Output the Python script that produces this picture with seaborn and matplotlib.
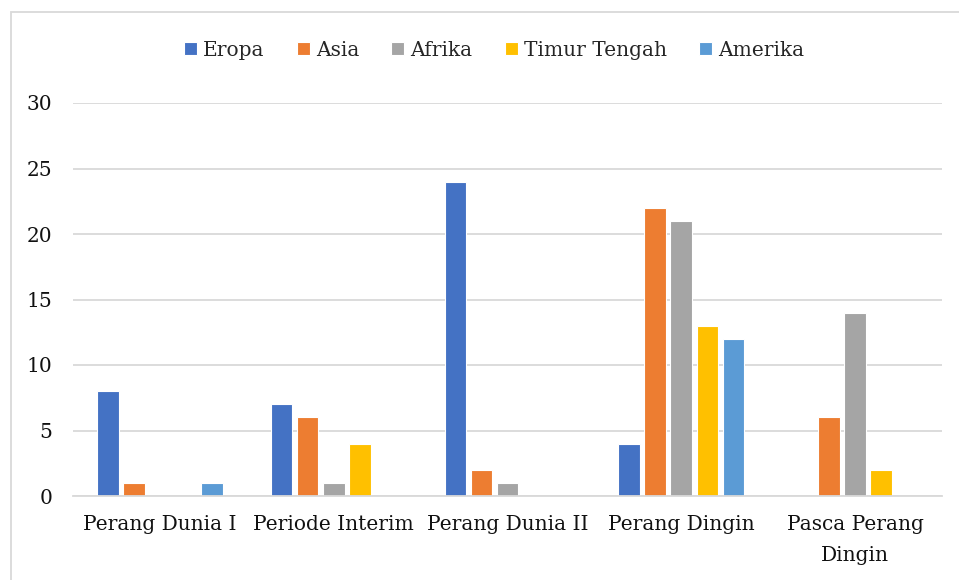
import matplotlib
matplotlib.use("Agg")
import matplotlib.pyplot as plt
import seaborn as sns
import pandas as pd
from matplotlib.patches import Rectangle

categories = ["Perang Dunia I", "Periode Interim", "Perang Dunia II", "Perang Dingin", "Pasca Perang\nDingin"]
series_names = ["Eropa", "Asia", "Afrika", "Timur Tengah", "Amerika"]
eropa = [8, 7, 24, 4, 0]
asia = [1, 6, 2, 22, 6]
afrika = [0, 1, 1, 21, 14]
timur_tengah = [0, 4, 0, 13, 2]
amerika = [1, 0, 0, 12, 0]
colors = ["#4472C4", "#ED7D31", "#A5A5A5", "#FFC000", "#5B9BD5"]
yticks = [0, 5, 10, 15, 20, 25, 30]

rows = []
for name, vals in zip(series_names, [eropa, asia, afrika, timur_tengah, amerika]):
    for c, v in zip(categories, vals):
        rows.append({"cat": c, "region": name, "val": v})
df = pd.DataFrame(rows)

sns.set_theme(style="white")
plt.rcParams["font.family"] = ["DejaVu Serif"]

fs = 14.5
fig = plt.figure(figsize=(9.59, 5.80), dpi=100)
ax = fig.add_axes([73/959, 1-496/580, (942-73)/959, (496-103)/580])

sns.barplot(data=df, x="cat", y="val", hue="region", order=categories,
            hue_order=series_names, palette=colors, width=0.75, gap=0.17,
            ax=ax, linewidth=0.8, edgecolor="white", saturation=1, errorbar=None)

ax.set_ylim(0, 30)
ax.set_yticks(yticks)
ax.set_xlim(-0.5, 4.5)
ax.yaxis.grid(True, color="#D9D9D9", linewidth=1.3)
ax.set_axisbelow(True)
for s in ["top", "right", "left"]:
    ax.spines[s].set_visible(False)
ax.spines["bottom"].set_color("#D9D9D9")
ax.spines["bottom"].set_linewidth(1.3)
ax.set_xlabel("")
ax.set_ylabel("")
ax.tick_params(axis="y", length=0, pad=15, labelsize=fs, labelcolor="#111111")
ax.tick_params(axis="x", length=0, pad=14, labelsize=fs, labelcolor="#111111")
for t in ax.get_xticklabels():
    t.set_linespacing(1.8)

handles, labels = ax.get_legend_handles_labels()
ax.legend(handles, labels, loc="center", bbox_to_anchor=(494/959, (580-50)/580),
          bbox_transform=fig.transFigure, ncol=5, frameon=False, fontsize=fs,
          handlelength=0.65, handleheight=0.65, handletextpad=0.3, columnspacing=1.6)

fig.patches.append(Rectangle((11/959, -0.1), 1.2, 1 - 12/580 + 0.1, transform=fig.transFigure,
                             fill=False, edgecolor="#D9D9D9", linewidth=1.3))

fig.savefig("out.png", dpi=100)
